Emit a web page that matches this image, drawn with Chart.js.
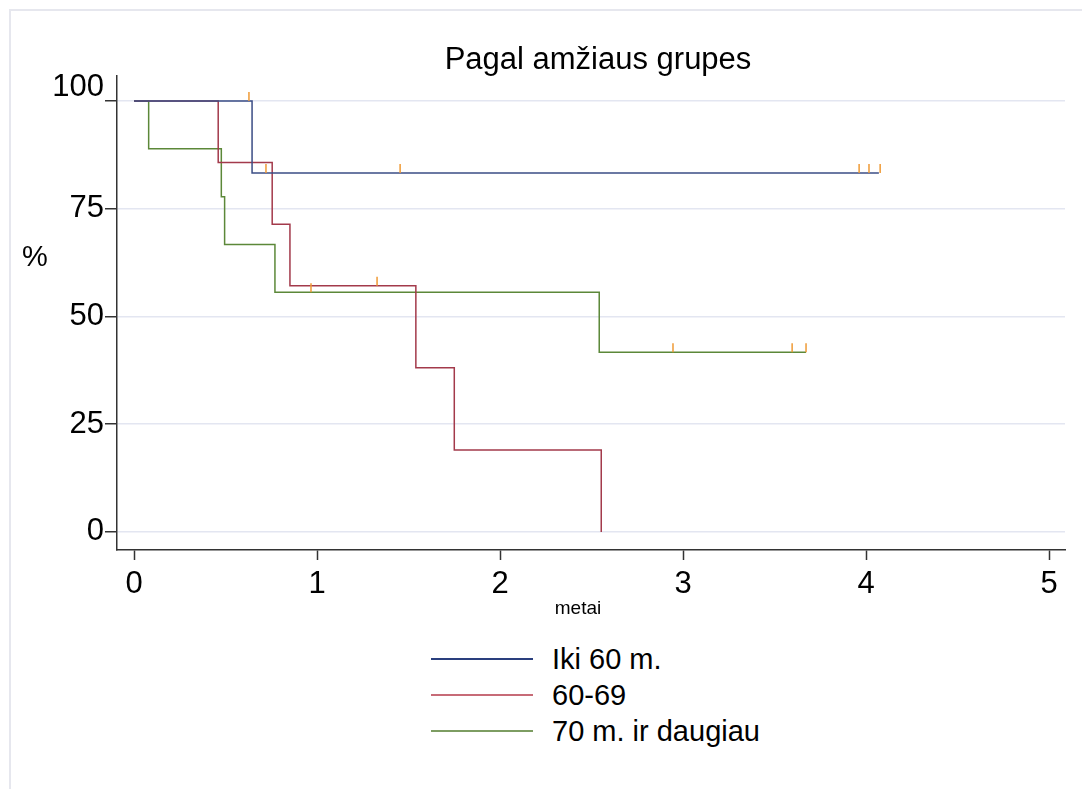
<!DOCTYPE html>
<html>
<head>
<meta charset="utf-8">
<script src="https://cdn.jsdelivr.net/npm/chart.js@4/dist/chart.umd.min.js"></script>
<style>
  html, body { margin: 0; padding: 0; background: #fff; }
  body { width: 1082px; height: 789px; position: relative; overflow: hidden; font-family: "Liberation Sans", Arial, sans-serif; color: #000; }
  #frame { position: absolute; left: 9px; top: 9px; right: 0; bottom: 0; border-top: 2px solid #e6e7ee; border-left: 2px solid #e6e7ee; }
  #chartBox { position: absolute; left: 0; top: 0; width: 1082px; height: 640px; }
  .txt { position: absolute; white-space: nowrap; line-height: 1; }
  #title { left: 0; width: 1196px; top: 43px; font-size: 31px; text-align: center; }
  #ylab { left: 22px; top: 242px; font-size: 29px; }
  #xlab { left: 0; width: 1156px; top: 598px; font-size: 19px; text-align: center; }
  #legend { position: absolute; left: 431px; top: 641px; }
  .legRow { position: relative; height: 36px; }
  .legLine { position: absolute; left: 0; top: 17px; width: 102px; height: 1.5px; }
  .legText { position: absolute; left: 121px; top: 4px; font-size: 29px; line-height: 1; white-space: nowrap; }
</style>
</head>
<body>
<div id="frame"></div>
<div id="chartBox"><canvas id="kmChart" width="1082" height="640"></canvas></div>
<div class="txt" id="title">Pagal amžiaus grupes</div>
<div class="txt" id="ylab">%</div>
<div class="txt" id="xlab">metai</div>
<div id="legend"></div>
<script>
// Kaplan-Meier steps (time in years, survival in %)
const seriesLabels = ['Iki 60 m.', '60-69', '70 m. ir daugiau'];
const seriesColors = ['#3b4d85', '#a33a4b', '#5c8839'];
const legendColors = ['#2a3f7e', '#c76b77', '#7d9d62'];

const iki60Times = [0, 0.645, 4.07];
const iki60Surv = [100, 83.3, 83.3];
const g6069Times = [0, 0.46, 0.755, 0.852, 1.54, 1.75, 2.553];
const g6069Surv = [100, 85.7, 71.4, 57.1, 38.1, 19.0, 0];
const g70Times = [0, 0.08, 0.477, 0.495, 0.77, 2.542, 3.672];
const g70Surv = [100, 88.9, 77.8, 66.7, 55.6, 41.7, 41.7];

// censored observations
const iki60CensTimes = [0.628, 0.721, 1.454, 3.962, 4.016, 4.077];
const iki60CensSurv = [100, 83.3, 83.3, 83.3, 83.3, 83.3];
const g6069CensTimes = [1.328];
const g6069CensSurv = [57.1];
const g70CensTimes = [0.967, 2.945, 3.596, 3.672];
const g70CensSurv = [55.6, 41.7, 41.7, 41.7];

const xTicks = [0, 1, 2, 3, 4, 5];
const yTicks = [0, 25, 50, 75, 100];

const censorColor = '#ef9a35';

function toPoints(times, surv) {
  return times.map((t, i) => ({ x: t, y: surv[i] }));
}

const censorSets = [
  toPoints(iki60CensTimes, iki60CensSurv),
  toPoints(g6069CensTimes, g6069CensSurv),
  toPoints(g70CensTimes, g70CensSurv)
];

const censorPlugin = {
  id: 'censorTicks',
  afterDatasetsDraw(chart) {
    const ctx = chart.ctx;
    const xs = chart.scales.x;
    const ys = chart.scales.y;
    ctx.save();
    ctx.strokeStyle = censorColor;
    ctx.lineWidth = 1.5;
    censorSets.forEach(set => {
      set.forEach(p => {
        const px = xs.getPixelForValue(p.x);
        const py = ys.getPixelForValue(p.y);
        ctx.beginPath();
        ctx.moveTo(px, py);
        ctx.lineTo(px, py - 9);
        ctx.stroke();
      });
    });
    ctx.restore();
  }
};

const legend = document.getElementById('legend');
seriesLabels.forEach((lab, i) => {
  const row = document.createElement('div');
  row.className = 'legRow';
  row.innerHTML = '<div class="legLine" style="background:' + legendColors[i] + '"></div><div class="legText">' + lab + '</div>';
  legend.appendChild(row);
});

const allSeries = [toPoints(iki60Times, iki60Surv), toPoints(g6069Times, g6069Surv), toPoints(g70Times, g70Surv)];

new Chart(document.getElementById('kmChart'), {
  type: 'line',
  data: {
    datasets: allSeries.map((pts, i) => ({
      label: seriesLabels[i],
      data: pts,
      borderColor: seriesColors[i],
      borderWidth: 1.5,
      pointRadius: 0,
      fill: false,
      stepped: 'before'
    }))
  },
  options: {
    responsive: false,
    animation: false,
    layout: { padding: { top: 76, right: 17, left: 0, bottom: 0 } },
    plugins: {
      legend: { display: false },
      title: { display: false },
      tooltip: { enabled: false }
    },
    scales: {
      x: {
        type: 'linear',
        min: -0.093,
        max: 5.087,
        afterBuildTicks: s => { s.ticks = xTicks.map(v => ({ value: v })); },
        afterFit: s => { s.height = 90; },
        grid: { drawOnChartArea: false, tickLength: 10, tickColor: '#333', tickWidth: 1.5 },
        border: { display: true, color: '#333', width: 1.5 },
        ticks: { color: '#000', padding: 6, maxRotation: 0, font: { family: '"Liberation Sans", Arial', size: 31 } }
      },
      y: {
        type: 'linear',
        min: -4.2,
        max: 105.8,
        afterBuildTicks: s => { s.ticks = yTicks.map(v => ({ value: v })); },
        afterFit: s => { s.width = 117; },
        grid: { color: '#e3e6f1', lineWidth: 1.5, tickLength: 12, tickColor: '#333', tickWidth: 1.5 },
        border: { display: true, color: '#333', width: 1.5 },
        ticks: {
          color: '#000',
          padding: 1,
          // top label sits above its tick in the original
          callback: v => (v === 100 ? [String(v), ''] : String(v)),
          font: { family: '"Liberation Sans", Arial', size: 31, lineHeight: 0.85 }
        }
      }
    }
  },
  plugins: [censorPlugin]
});
</script>
</body>
</html>
